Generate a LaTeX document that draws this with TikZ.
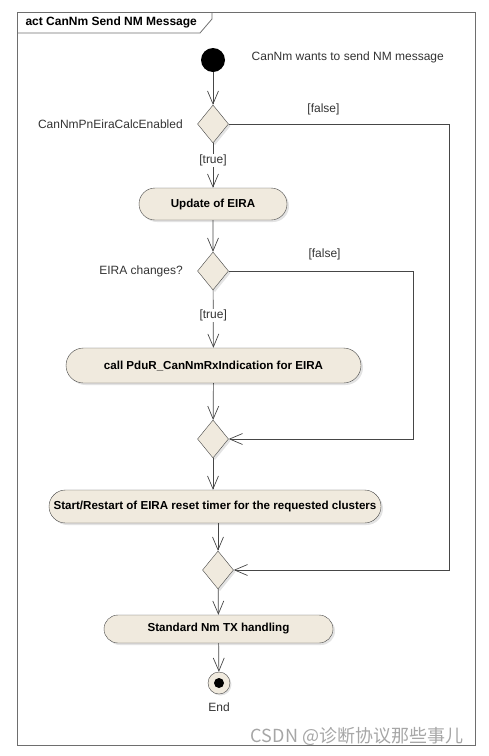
\documentclass[tikz,border=0pt]{standalone}
\usepackage{fontspec}
\setmainfont{Liberation Sans}
\newfontfamily\cjkfont{Noto Sans CJK SC}
\usepackage{xcolor}
\usepackage{tikz}
\usetikzlibrary{arrows.meta,positioning,shapes.geometric,shapes.misc,shadows}

\definecolor{umlfill}{RGB}{240,234,222}
\definecolor{umlline}{RGB}{70,70,70}
\definecolor{framecol}{RGB}{110,110,110}

\begin{document}
\begin{tikzpicture}[
  x=1pt, y=-1pt,
  >={Straight Barb[length=13pt,width=11pt]},
  every node/.style={font=\fontsize{12}{14}\selectfont},
  action/.style={rounded rectangle, draw=umlline, fill=umlfill,
    minimum height=32pt, inner xsep=4pt,
    font=\fontsize{11.6}{14}\selectfont\bfseries,
    drop shadow={shadow xshift=2pt, shadow yshift=-2pt, fill=black!22}},
  decision/.style={diamond, draw=umlline, fill=umlfill, inner sep=0pt,
    minimum width=31pt, minimum height=38pt,
    drop shadow={shadow xshift=2pt, shadow yshift=-2pt, fill=black!22}},
  startdot/.style={circle, fill=black, minimum size=24pt, inner sep=0pt},
  enddot/.style={circle, draw=umlline, fill=umlfill, minimum size=22pt, inner sep=0pt,
    path picture={\fill[black] (path picture bounding box.center) circle (5pt);},
    drop shadow={shadow xshift=1.5pt, shadow yshift=-1.5pt, fill=black!22}},
  flow/.style={->, umlline, line width=0.7pt},
  guardlbl/.style={fill=white, inner sep=1pt, text=black!80},
  note/.style={text=black!80},
]
\useasboundingbox (0,0) rectangle (489,756);

% === Frame ===
\draw[framecol, line width=0.8pt] (17,12) rectangle (475,745);
\draw[framecol, line width=0.8pt] (17,33) -- (200,33) -- (212,19) -- (212,12);
\node[anchor=west, font=\fontsize{12}{14}\selectfont\bfseries] (title) at (22,22.5) {act CanNm Send NM Message};

% === Nodes ===
\node[startdot] (start) at (213,60) {};
\node[note, right=23pt of start, yshift=3pt] (wants) {CanNm wants to send NM message};

\node[decision] (chk) at (213,124) {};
\node[note, left=11pt of chk] (chklbl) {CanNmPnEiraCalcEnabled};

\node[action, minimum width=156pt] (upd) at (213,204) {Update of EIRA};

\node[decision] (chg) at (213,271) {};
\node[note, left=11pt of chg] (chglbl) {EIRA changes?};

\node[action, minimum width=303pt, minimum height=35pt] (call) at (213.5,365.5) {call PduR\_CanNmRxIndication for EIRA};

\node[decision] (merge1) at (213,439) {};

\node[action, minimum width=340pt, minimum height=33pt] (timer) at (215,506.5) {Start/Restart of EIRA reset timer for the requested clusters};

\node[decision] (merge2) at (218,570) {};

\node[action, minimum width=237pt, minimum height=28pt] (std) at (218.5,629) {Standard Nm TX handling};

\node[enddot] (end) at (219,683) {};
\node[note, below=5pt of end] (endlbl) {End};

% === Bend points ===
\coordinate (r1) at (449,124);
\coordinate (r2) at (413,271);

% === Arrows ===
\draw[flow] (start) -- (chk);
\draw[flow] (chk) -- node[guardlbl, pos=0.38] {[true]} (upd);
\draw[flow] (chk.east) -- node[note, above=5pt, pos=0.43] {[false]} (r1) |- (merge2.east);
\draw[flow] (upd) -- (chg);
\draw[flow] (chg) -- node[guardlbl, pos=0.44] {[true]} (call);
\draw[flow] (chg.east) -- node[note, above=7pt, pos=0.52] {[false]} (r2) |- (merge1.east);
\draw[flow] (call) -- (merge1);
\draw[flow] (merge1) -- (merge1 |- timer.north);
\draw[flow] (timer.south -| merge2) -- (merge2);
\draw[flow] (merge2) -- (std);
\draw[flow] (std) -- (end);

% === Watermark ===
\node[text=black!35, font=\cjkfont\fontsize{18}{20}\selectfont] (wm) at (357,736) {CSDN @诊断协议那些事儿};

\end{tikzpicture}
\end{document}
